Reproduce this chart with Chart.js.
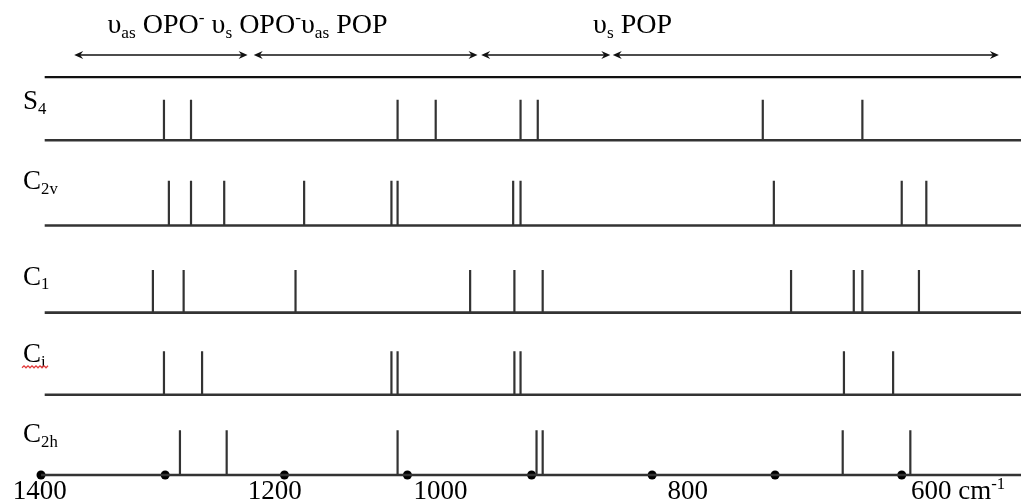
<!DOCTYPE html>
<html>
<head>
<meta charset="utf-8">
<script src="https://cdn.jsdelivr.net/npm/chart.js@4"></script>
<style>
body { margin: 0; background: #fff; }
#wrap { width: 1021px; height: 501px; }
</style>
</head>
<body>
<div id="wrap"><canvas id="bandas" width="1021" height="501"></canvas></div>
<script>
// Posições das bandas (cm-1), uma lista por simetria
const rowLabels = ['S', 'C', 'C', 'C', 'C'];
const rowSubs = ['4', '2v', '1', 'i', '2h'];
const s4Bands = [1300, 1278, 1110, 1079, 1010, 996, 813, 732];
const c2vBands = [1296, 1278, 1251, 1186, 1115, 1110, 1016, 1010, 804, 700, 680];
const c1Bands = [1309, 1284, 1193, 1051, 1015, 992, 790, 739, 732, 686];
const ciBands = [1300, 1269, 1115, 1110, 1015, 1010, 747, 707];
const c2hBands = [1287, 1249, 1110, 997, 992, 748, 693];

// Eixo de número de onda (pontos marcados no eixo)
const axisDots = [1400, 1299, 1202, 1102, 1001, 903, 803, 700];
const tickLabels = ['1400', '1200', '1000', '800', '600'];
const tickAt = [1401, 1210, 1075, 874, 676];

// Regiões de estiramento (setas) e os textos de cima
const arrowRanges = [[1373, 1232], [1227, 1045], [1042, 937], [935, 621]];
const regionText1 = [['υ', 'n'], ['as', 'sub'], [' OPO', 'n'], ['-', 'sup'], [' υ', 'n'], ['s', 'sub'],
    [' OPO', 'n'], ['-', 'sup'], ['υ', 'n'], ['as', 'sub'], [' POP', 'n']];
const regionText2 = [['υ', 'n'], ['s', 'sub'], [' POP', 'n']];
const regionTextAt = [1346, 951];

// Layout das linhas (unidades do eixo y, 0 a 100)
const allBands = [s4Bands, c2vBands, c1Bands, ciBands, c2hBands];
const rowBase = [72, 55, 37.6, 21.2, 5.2];
const rowHeight = [8.1, 8.9, 8.5, 8.7, 8.9];
const labelOffset = [31, 36, 28, 33, 33];
const topLineY = 84.6;
const arrowY = 89.0;
const cor = '#333';
const fonte = '"Liberation Serif", "DejaVu Serif", serif';

function sticks(bands, base, h) {
    const pts = [];
    bands.forEach(b => {
        pts.push({ x: b, y: base }, { x: b, y: base + h }, { x: b, y: null });
    });
    return pts;
}

const datasets = [];
allBands.forEach((bands, i) => {
    const start = i === 4 ? 1400 : 1397;
    datasets.push({
        data: [{ x: start, y: rowBase[i] }, { x: 603, y: rowBase[i] }],
        borderColor: cor, borderWidth: 2.6, pointRadius: 0
    });
    datasets.push({
        data: sticks(bands, rowBase[i], rowHeight[i]),
        borderColor: cor, borderWidth: 2.2, pointRadius: 0, spanGaps: false
    });
});
// linha de cima
datasets.push({
    data: [{ x: 1397, y: topLineY }, { x: 603, y: topLineY }],
    borderColor: '#111', borderWidth: 2.2, pointRadius: 0
});
// pontos do eixo
datasets.push({
    data: axisDots.map(v => ({ x: v, y: rowBase[4] })),
    showLine: false, pointRadius: 4.5, pointBackgroundColor: '#000',
    pointBorderWidth: 0, clip: false
});

function drawRich(ctx, x, y, parts, size) {
    parts.forEach(p => {
        let fs = size, dy = 0;
        if (p[1] === 'sub') { fs = size * 0.62; dy = size * 0.18; }
        if (p[1] === 'sup') { fs = size * 0.62; dy = -size * 0.36; }
        ctx.font = fs + 'px ' + fonte;
        ctx.fillText(p[0], x, y + dy);
        x += ctx.measureText(p[0]).width;
    });
}

function arrowHead(ctx, x, y, dir) {
    ctx.beginPath();
    ctx.moveTo(x, y);
    ctx.lineTo(x + dir * 9, y - 4);
    ctx.lineTo(x + dir * 6, y);
    ctx.lineTo(x + dir * 9, y + 4);
    ctx.closePath();
    ctx.fill();
}

const textos = {
    id: 'textos',
    afterDraw(chart) {
        const ctx = chart.ctx;
        const xs = chart.scales.x, ys = chart.scales.y;
        ctx.save();
        ctx.fillStyle = '#000';
        ctx.textBaseline = 'alphabetic';
        ctx.textAlign = 'left';

        // textos das regiões
        drawRich(ctx, xs.getPixelForValue(regionTextAt[0]), 33, regionText1, 28);
        drawRich(ctx, xs.getPixelForValue(regionTextAt[1]), 33, regionText2, 28);

        // setas
        ctx.strokeStyle = '#111';
        ctx.fillStyle = '#111';
        ctx.lineWidth = 1.5;
        const ay = ys.getPixelForValue(arrowY);
        arrowRanges.forEach(r => {
            const x1 = xs.getPixelForValue(r[0]), x2 = xs.getPixelForValue(r[1]);
            ctx.beginPath();
            ctx.moveTo(x1 + 4, ay); ctx.lineTo(x2 - 4, ay);
            ctx.stroke();
            arrowHead(ctx, x1, ay, 1);
            arrowHead(ctx, x2, ay, -1);
        });
        ctx.fillStyle = '#000';

        // nomes das simetrias
        rowLabels.forEach((l, i) => {
            const y = ys.getPixelForValue(rowBase[i]) - labelOffset[i];
            drawRich(ctx, 23, y, [[l, 'n'], [rowSubs[i], 'sub']], 27);
        });

        // sublinhado ondulado vermelho em Ci
        const sy = ys.getPixelForValue(rowBase[3]) - labelOffset[3] + 4;
        ctx.strokeStyle = '#e23a3a';
        ctx.lineWidth = 1.2;
        ctx.beginPath();
        for (let x = 22; x <= 48; x += 2) {
            const yy = sy + ((x / 2) % 2 === 0 ? 0 : 2);
            if (x === 22) ctx.moveTo(x, yy); else ctx.lineTo(x, yy);
        }
        ctx.stroke();

        // rótulos do eixo x
        tickLabels.forEach((t, i) => {
            const px = xs.getPixelForValue(tickAt[i]);
            ctx.textAlign = 'center';
            ctx.font = '27px ' + fonte;
            ctx.fillText(t, px, 499);
            if (i === tickLabels.length - 1) {
                const w = ctx.measureText(t).width;
                ctx.textAlign = 'left';
                drawRich(ctx, px + w / 2, 499, [[' cm', 'n'], ['-1', 'sup']], 27);
            }
        });
        ctx.restore();
    }
};

new Chart(document.getElementById('bandas'), {
    type: 'line',
    data: { datasets: datasets },
    options: {
        responsive: false,
        animation: false,
        events: [],
        layout: { autoPadding: false, padding: { left: 41, right: 0, top: 0, bottom: 0 } },
        elements: { line: { tension: 0 } },
        scales: {
            x: { type: 'linear', reverse: true, min: 603, max: 1400, display: false },
            y: { type: 'linear', min: 0, max: 100, display: false }
        },
        plugins: { legend: { display: false }, tooltip: { enabled: false } }
    },
    plugins: [textos]
});
</script>
</body>
</html>
